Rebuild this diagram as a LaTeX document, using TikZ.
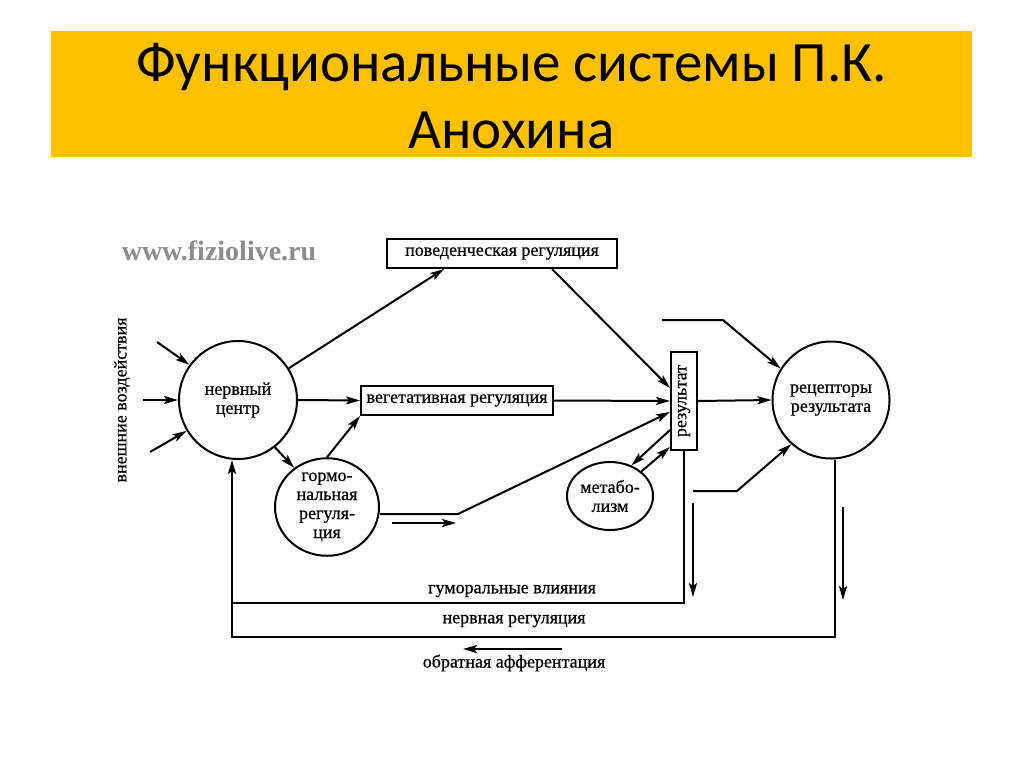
\documentclass[tikz,border=0pt]{standalone}
\usepackage{fontspec}
\setmainfont{Liberation Serif}
\newfontfamily\titlefont{Carlito}
\newfontfamily\diagserif[FakeBold=0.7]{Liberation Serif}
\usepackage{tikz}
\usetikzlibrary{arrows.meta,shapes.geometric}
\definecolor{anokhinGold}{HTML}{FFC000}
\definecolor{anokhinGray}{HTML}{8C8C8C}
\newcommand{\diagfont}{\diagserif\fontsize{18}{19}\selectfont}
\tikzset{
  flow/.style={-{Stealth[length=14pt,width=8pt,inset=3pt]}, line width=2pt},
  link/.style={line width=2pt},
  reg box/.style={draw, line width=2pt, minimum height=29pt,
    inner sep=0pt, font=\diagfont},
  centre node/.style={circle, draw, line width=2pt, inner sep=0pt,
    align=center, font=\diagfont},
  oval node/.style={ellipse, draw, line width=2pt, inner sep=0pt,
    align=center, font=\diagfont},
  path label/.style={font=\diagfont, inner sep=0pt}
}
\begin{document}
\begin{tikzpicture}[x=1pt, y=1pt]
  \useasboundingbox (0,0) rectangle (1024,-768);
  \node[fill=anokhinGold, minimum width=921pt, minimum height=126pt,
    inner sep=0pt] (banner) at (511.5,-94) {};
  \node[font=\titlefont\fontsize{57}{67}\selectfont, align=center,
    inner sep=0pt] (title) at (511.5,-96)
    {Функциональные системы П.К.\\Анохина};
  \node[font=\bfseries\fontsize{28}{28}\selectfont, text=anokhinGray,
    inner sep=0pt] (site) at (219,-251) {www.fiziolive.ru};
  \node[path label, rotate=90] (ext) at (122,-400) {внешние воздействия};

  \node[centre node, minimum size=118pt] (nerv) at (238,-400) {нервный\\центр};
  \node[centre node, minimum size=117pt] (rec) at (831,-400) {рецепторы\\результата};
  \node[oval node, minimum width=104pt, minimum height=94pt] (horm)
    at (327,-507) {гормо-\\нальная\\регуля-\\ция};
  \node[oval node, minimum width=86pt, minimum height=68pt] (meta)
    at (610,-496) {метабо-\\лизм};
  \node[reg box, minimum width=230pt] (beh) at (502,-253.5)
    {поведенческая регуляция};
  \node[reg box, minimum width=192pt] (veg) at (457,-400.5)
    {вегетативная регуляция};
  \node[reg box, minimum width=26pt, minimum height=98pt] (res)
    at (684,-401) {\rotatebox{90}{результат}};

  \node[path label] (humlbl) at (512,-591) {гуморальные влияния};
  \node[path label] (nervlbl) at (514,-621) {нервная регуляция};
  \node[path label] (afflbl) at (514,-663) {обратная афферентация};

  \coordinate (in1) at (157,-342);
  \coordinate (in2) at (143,-400);
  \coordinate (in3) at (150,-452);
  \coordinate (hbend) at (458,-514);
  \coordinate (hs1) at (392,-523);
  \coordinate (hs2) at (456,-523);
  \coordinate (rin1) at (662,-320);
  \coordinate (rbend1) at (723,-320);
  \coordinate (rin2) at (693,-491);
  \coordinate (rbend2) at (737,-491);
  \coordinate (hfb) at (232,-603);
  \coordinate (nfb) at (232,-637);
  \coordinate (d1a) at (693,-503);
  \coordinate (d1b) at (693,-597);
  \coordinate (d2a) at (843,-507);
  \coordinate (d2b) at (843,-600);
  \coordinate (aff1) at (562,-649);
  \coordinate (aff2) at (463,-649);

  \draw[flow] (in1) -- (nerv.144);
  \draw[flow] (in2) -- (nerv.west);
  \draw[flow] (in3) -- (nerv.211);
  \draw[flow] (nerv.32) -- ([xshift=58pt]beh.south west);
  \draw[flow] (nerv.east) -- (veg.west);
  \draw[flow] (nerv.-52) -- (horm.130);
  \draw[flow] (horm.north) -- (veg.south west);
  \draw[flow] ([xshift=-66pt]beh.south east) -- ([yshift=13pt]res.west);
  \draw[flow] (veg.east) -- (res.west);
  \draw[flow] (horm.east |- hbend) -- (hbend) -- ([yshift=-11pt]res.west);
  \draw[flow] (hs1) -- (hs2);
  \draw[flow] ([yshift=-29pt]res.west) -- (meta.55);
  \draw[flow] (meta.38) -- ([yshift=4pt]res.south west);
  \draw[flow] (res.east) -- (rec.west);
  \draw[flow] (rin1) -- (rbend1) -- (rec.148);
  \draw[flow] (rin2) -- (rbend2) -- (rec.228);
  \draw[link] (res.south) |- (hfb);
  \draw[flow] ([xshift=4pt]rec.south) |- (nfb) -- (nfb |- nerv.south);
  \draw[flow] (d1a) -- (d1b);
  \draw[flow] (d2a) -- (d2b);
  \draw[flow] (aff1) -- (aff2);
\end{tikzpicture}
\end{document}
